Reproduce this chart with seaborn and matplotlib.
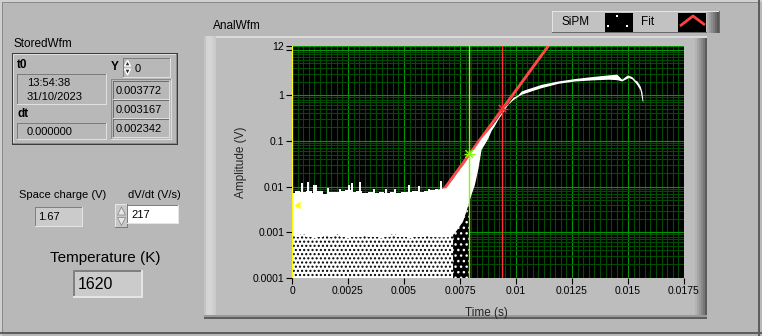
import numpy as np
import matplotlib
matplotlib.use("Agg")
import matplotlib.pyplot as plt
import seaborn as sns
from matplotlib.patches import Rectangle, Polygon
from matplotlib.lines import Line2D
from matplotlib.ticker import FixedLocator, FixedFormatter, LogLocator, NullFormatter

# ---------------- data ----------------
# baseline noise band of the SiPM waveform
base_t = [0.0, 0.00025, 0.0005, 0.00075, 0.001, 0.00125, 0.0015, 0.00175, 0.002, 0.00225,
          0.0025, 0.00275, 0.003, 0.00325, 0.0035, 0.00375, 0.004, 0.00425, 0.0045, 0.00475,
          0.005, 0.00525, 0.0055, 0.00575, 0.006, 0.00625, 0.0065]
base_hi = [0.0072, 0.0080, 0.0076, 0.0082, 0.0074, 0.0079, 0.0070, 0.0078, 0.0075, 0.0080,
           0.0083, 0.0077, 0.0079, 0.0074, 0.0078, 0.0072, 0.0076, 0.0074, 0.0077, 0.0073,
           0.0078, 0.0075, 0.0079, 0.0076, 0.0080, 0.0084, 0.0088]
base_lo = [0.00085, 0.0008, 0.0009, 0.0008, 0.00075, 0.0008, 0.00085, 0.0008, 0.0009, 0.0008,
           0.00075, 0.0008, 0.0008, 0.00085, 0.0008, 0.0008, 0.00075, 0.0008, 0.0009, 0.0008,
           0.0008, 0.00075, 0.0008, 0.0008, 0.00085, 0.0008, 0.0008]
# isolated noise spikes above the baseline band
spike_t = [0.00043, 0.00073, 0.00096, 0.00108, 0.00160, 0.00215, 0.00256, 0.00268,
           0.00302, 0.00365, 0.00420, 0.00460, 0.00522, 0.00567, 0.00610, 0.00664]
spike_v = [0.0120, 0.0125, 0.0111, 0.0110, 0.0095, 0.0090, 0.0111, 0.0121,
           0.0124, 0.0089, 0.0090, 0.0088, 0.0111, 0.0102, 0.0090, 0.0131]
# rising edge and saturation of the SiPM waveform
rise_t = [0.00640, 0.00664, 0.00687, 0.00702, 0.00717, 0.00732, 0.00747, 0.00762, 0.00777,
          0.00791, 0.00800, 0.00814, 0.00830, 0.00844, 0.00874, 0.00889, 0.00904, 0.00919,
          0.00934, 0.00949, 0.00964, 0.00986, 0.01008, 0.01023, 0.01053, 0.01068, 0.01113,
          0.01188, 0.01263, 0.01338, 0.01412, 0.01450, 0.01472, 0.01495, 0.01502, 0.01517,
          0.01532, 0.01540, 0.01554, 0.01562, 0.01566]
rise_hi = [0.0086, 0.0092, 0.0095, 0.0120, 0.0150, 0.0190, 0.0240, 0.0300, 0.0380,
           0.0480, 0.058, 0.070, 0.090, 0.115, 0.17, 0.21, 0.26, 0.33,
           0.42, 0.55, 0.66, 0.90, 1.02, 1.24, 1.40, 1.47, 1.74,
           2.06, 2.33, 2.57, 2.80, 2.90, 2.25, 2.75, 2.75, 2.57,
           2.15, 2.06, 1.60, 1.20, 0.80]
rise_lo = [0.0008, 0.0008, 0.0008, 0.0008, 0.0009, 0.0011, 0.0014, 0.0018, 0.0030,
           0.0050, 0.0070, 0.011, 0.025, 0.065, 0.115, 0.17, 0.22, 0.30,
           0.38, 0.50, 0.64, 0.80, 0.95, 1.05, 1.18, 1.25, 1.47,
           1.83, 2.06, 2.17, 2.25, 2.20, 2.06, 2.35, 2.45, 2.30,
           1.90, 1.70, 1.30, 0.80, 0.70]
# speckled lower part of the band (mostly white) and the sparse patch before the rise
speck_t = [0.0, 0.0015, 0.003, 0.0045, 0.006, 0.0068, 0.0071, 0.0072]
speck_hi = [0.00092, 0.00092, 0.00092, 0.00092, 0.00092, 0.00092, 0.00095, 0.00095]
gap_t = [0.0072, 0.0074, 0.0076, 0.0078, 0.0079]
gap_hi = [0.0009, 0.0012, 0.0017, 0.0030, 0.0050]
# exponential fit (straight line on the log axis)
fit_t = [0.00390, 0.01144]
fit_v = [0.0001, 12.0]
# cursors
cursor_t = [0.0, 0.00791, 0.009394]
cursor_v = [0.004, 0.052, 0.51]
cursor_c = ['#ffff00', '#80ff00', '#ff3030']

x_ticks = [0, 0.0025, 0.005, 0.0075, 0.01, 0.0125, 0.015, 0.0175]
x_labels = ['0', '0.0025', '0.005', '0.0075', '0.01', '0.0125', '0.015', '0.0175']
y_ticks = [0.0001, 0.001, 0.01, 0.1, 1, 10, 12]
y_labels = ['0.0001', '0.001', '0.01', '0.1', '1', '', '12']

# ---------------- figure ----------------
W, H = 762, 336
sns.set_theme(style="ticks")
plt.rcParams['font.family'] = ['Liberation Sans', 'DejaVu Sans']
plt.rcParams['hatch.linewidth'] = 1.0

PANEL = '#b8b8b8'
LIGHT = '#e2e2e2'
DARK = '#6a6a6a'
IND = '#cbcbcb'

fig = plt.figure(figsize=(W / 100, H / 100), dpi=100)
fig.patch.set_facecolor(PANEL)


def fx(x):
    return x / W


def fy(y):
    return 1 - y / H


def rect(x, y, w, h, fc, z=-5):
    fig.add_artist(Rectangle((fx(x), fy(y + h)), w / W, h / H, transform=fig.transFigure,
                             facecolor=fc, edgecolor='none', linewidth=0, zorder=z))


def bevel(x, y, w, h, fc, tl, br, t=1, z=-5):
    rect(x, y, w, h, fc, z)
    rect(x, y, w, t, tl, z)
    rect(x, y, t, h, tl, z)
    rect(x, y + h - t, w, t, br, z)
    rect(x + w - t, y, t, h, br, z)


def label(x, y, s, size=8.5, ha='left', weight='normal'):
    fig.text(fx(x), fy(y), s, fontsize=size, ha=ha, va='center', fontweight=weight, color='black')


def fline(xs, ys, c, lw, z=6):
    fig.add_artist(Line2D([fx(v) for v in xs], [fy(v) for v in ys], transform=fig.transFigure,
                          color=c, lw=lw, zorder=z, solid_capstyle='butt'))


# outer panel border
rect(0, 0, W, 2, '#d0d0d0')
rect(0, 0, 2, H, '#cfcfcf')
rect(2, 2, W - 4, 1, '#8a8a8a')
rect(2, 2, 1, H - 5, '#8a8a8a')
rect(0, 332, W, 2, '#5e5e5e')
rect(758, 0, 2, H, '#5e5e5e')

# ---- StoredWfm cluster ----
label(13, 44, 'StoredWfm')
bevel(12, 53, 166, 92, PANEL, '#3c3c3c', '#3c3c3c', t=1)
bevel(13, 54, 164, 90, PANEL, '#dedede', '#8a8a8a', t=1)
label(17, 65, 't0', weight='bold')
bevel(17, 74, 90, 31, PANEL, '#7c7c7c', '#e0e0e0')
label(27, 82.5, '13:54:38', 8)
label(27, 97.5, '31/10/2023', 8)
label(17, 114, 'dt', weight='bold')
bevel(17, 123, 90, 17, PANEL, '#7c7c7c', '#e0e0e0')
label(27, 131.5, '0.000000', 8)
label(111, 67, 'Y', weight='bold')
bevel(123, 58, 48, 20, PANEL, '#7c7c7c', '#e0e0e0')
fig.add_artist(Polygon([(fx(124.5), fy(66)), (fx(130.5), fy(66)), (fx(127.5), fy(60.5))],
                       transform=fig.transFigure, facecolor='#303030', zorder=2))
fig.add_artist(Polygon([(fx(124.5), fy(69)), (fx(130.5), fy(69)), (fx(127.5), fy(75))],
                       transform=fig.transFigure, facecolor='#303030', zorder=2))
label(135, 68.5, '0', 8)
bevel(111, 79, 61, 61, PANEL, '#8a8a8a', '#e0e0e0')
for i, s in enumerate(['0.003772', '0.003167', '0.002342']):
    bevel(113, 81 + 19 * i, 57, 19, PANEL, '#6e6e6e', '#dedede')
    label(116, 90.5 + 19 * i, s, 8)

# ---- Space charge / dV/dt ----
label(19, 195, 'Space charge (V)', 8)
bevel(35, 207, 48, 20, IND, '#808080', '#e4e4e4')
label(38, 217, '1.67', 8)
label(128, 195, 'dV/dt (V/s)', 8)
bevel(115, 204, 13, 24, '#c8c8c8', '#e6e6e6', '#7a7a7a')
fig.add_artist(Polygon([(fx(117.5), fy(215)), (fx(125.5), fy(215)), (fx(121.5), fy(207))],
                       transform=fig.transFigure, facecolor='#e8e8e8', edgecolor='#808080', lw=0.5, zorder=2))
fig.add_artist(Polygon([(fx(117.5), fy(217.5)), (fx(125.5), fy(217.5)), (fx(121.5), fy(225.5))],
                       transform=fig.transFigure, facecolor='#e8e8e8', edgecolor='#808080', lw=0.5, zorder=2))
bevel(127, 205, 52, 19, '#ffffff', '#808080', '#e4e4e4')
label(131, 214.5, '217', 8)

# ---- Temperature ----
label(105, 258, 'Temperature (K)', 11, ha='center')
bevel(73, 270, 70, 28, IND, '#808080', '#e4e4e4', t=2)
label(78, 284.5, '1620', 11.5)

# ---- chart frame ----
label(213, 26, 'AnalWfm')
rect(204, 36, 503, 283, '#bdbdbd')
rect(204, 36, 503, 2, '#dadada')
for i, c in enumerate(['#c4c4c4', '#d4d4d4', '#d6d6d6', '#d4d4d4', '#d0d0d0', '#cacaca']):
    rect(204 + 2 * i, 36, 2, 283, c)
for i, c in enumerate(['#b4b4b4', '#a6a6a6', '#989898', '#888888', '#767676', '#5c5c5c']):
    rect(695 + 2 * i, 38, 2, 281, c)
rect(204, 315, 503, 2, '#9a9a9a')
rect(204, 317, 503, 2, '#5e5e5e')

# ---- legend ----
bevel(552, 11, 168, 22, '#c2c2c2', '#e4e4e4', '#6a6a6a')
for i, c in enumerate(['#acacac', '#9c9c9c', '#8c8c8c', '#7c7c7c', '#6a6a6a', '#585858']):
    rect(707 + 2 * i, 12, 2, 21, c)
label(562, 22, 'SiPM', 8.5)
label(641, 22, 'Fit', 8.5)
rect(605, 13, 28, 19, '#000000', z=2)
for (px_, py_) in [(616.5, 15.5), (607.5, 25.5), (626.5, 25.5)]:
    rect(px_ - 1, py_ - 1, 2, 2, '#ffffff', z=3)
rect(678, 13, 28, 19, '#000000', z=2)
fline([680, 693, 705], [26, 16, 25], '#ff4040', 2.0)

# ---------------- main chart ----------------
ax = fig.add_axes([fx(292), fy(278), 392 / W, 232 / H])
ax.set_facecolor('black')
ax.set_yscale('log')
ax.set_xlim(0, 0.0175)
ax.set_ylim(0.0001, 12)

# fit (underneath the data)
sns.lineplot(x=fit_t, y=fit_v, ax=ax, color='#ff4848', lw=2.1, zorder=2, legend=False)

# speckled lower part of the noise band
ax.fill_between(speck_t, 0.0001, speck_hi, facecolor='white', edgecolor='black',
                hatch='....', linewidth=0, zorder=2.5)
ax.fill_between(gap_t, 0.0001, gap_hi, facecolor='black', edgecolor='white',
                hatch='...', linewidth=0, zorder=2.6)
# solid part of the waveform
ax.fill_between(base_t, base_lo, base_hi, step='mid', color='white', linewidth=0, zorder=3)
ax.vlines(spike_t, 0.007, spike_v, color='white', lw=1.4, zorder=3)
ax.fill_between(rise_t, rise_lo, rise_hi, color='white', linewidth=0, zorder=3)

# cursors
for t, v, c in zip(cursor_t, cursor_v, cursor_c):
    ax.axvline(t, color=c, lw=1.6 if t == 0 else 1.0, zorder=5)
pal = {c: c for c in cursor_c[1:]}
sns.scatterplot(x=cursor_t[1:], y=cursor_v[1:], ax=ax, marker='+', s=60,
                hue=cursor_c[1:], palette=pal, linewidth=1.0, zorder=6, legend=False)
sns.scatterplot(x=cursor_t[1:], y=cursor_v[1:], ax=ax, marker='x', s=30,
                hue=cursor_c[1:], palette=pal, linewidth=1.0, zorder=6, legend=False)
ax.plot([0.00012], [cursor_v[0]], marker=4, color='#ffff00', ms=5, zorder=6, clip_on=False)

# axes styling
ax.xaxis.set_major_locator(FixedLocator(x_ticks))
ax.xaxis.set_major_formatter(FixedFormatter(x_labels))
ax.xaxis.set_minor_locator(FixedLocator([i * 0.00025 for i in range(71)]))
ax.yaxis.set_major_locator(FixedLocator(y_ticks))
ax.yaxis.set_major_formatter(FixedFormatter(y_labels))
ax.yaxis.set_minor_locator(LogLocator(base=10, subs=np.arange(2, 10)))
ax.yaxis.set_minor_formatter(NullFormatter())
ax.set_axisbelow(True)
ax.grid(which='minor', color='#004c00', lw=0.8)
ax.grid(which='major', color='#009a00', lw=0.8)
ax.tick_params(which='major', length=4, width=0.8, color='black', labelsize=7.5,
               labelcolor='black', pad=1.5, direction='out')
ax.tick_params(which='minor', length=0)
for s in ax.spines.values():
    s.set_visible(False)
ax.set_xlabel('Time (s)', fontsize=8.5)
ax.set_ylabel('Amplitude (V)', fontsize=8.5)
ax.xaxis.set_label_coords(0.497, -0.125)
ax.yaxis.set_label_coords(-0.115, 0.5)

fig.savefig('out.png', dpi=100, facecolor=PANEL)
